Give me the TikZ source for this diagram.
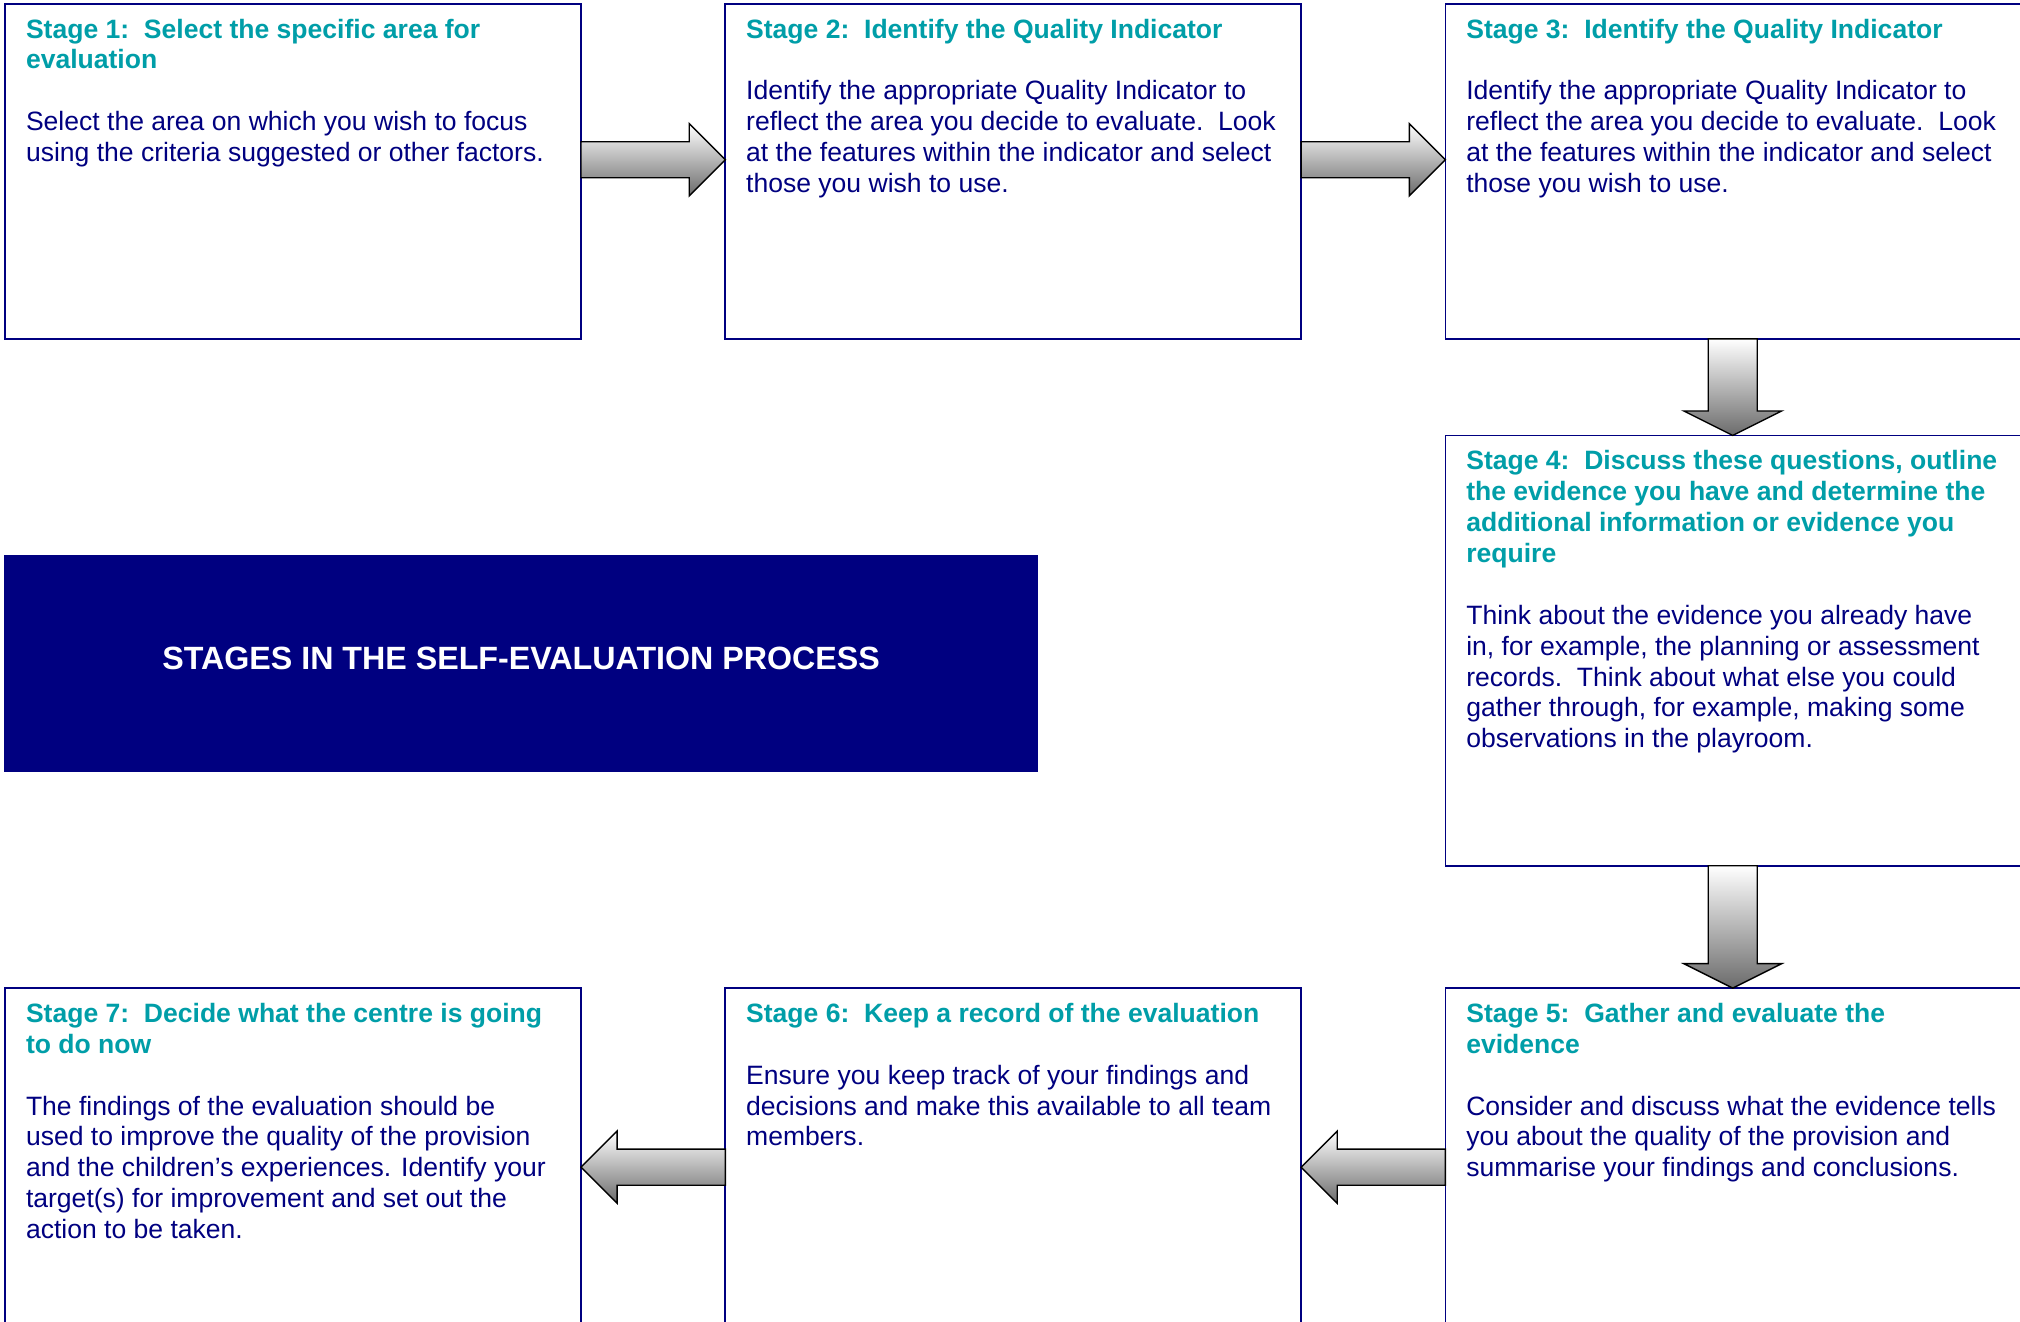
\documentclass[tikz,border=0pt]{standalone}
\usepackage{fontspec}
\setmainfont{Liberation Sans}
\usetikzlibrary{calc}
\definecolor{navy}{RGB}{0,0,128}
\definecolor{tealt}{RGB}{0,158,168}
\tikzset{
  stagebox/.style={draw=navy, line width=1.4pt, fill=white, anchor=north west, outer sep=0pt, inner sep=0pt},
  txt/.style={anchor=base west, inner sep=0pt, font=\fontsize{20.6pt}{24pt}\selectfont},
  blockarrowstyle/.style={draw=black, line width=1.1pt, line join=miter, top color=white, bottom color=black!58},
}
\newcommand{\blockarrow}[5]{% tail, tip, headlen, shafthalf, headhalf
  \path ($(#2)!#3!(#1)$) coordinate (ba-h);
  \shadedraw[blockarrowstyle]
    ($(#1)!#4!90:(#2)$) -- ($(ba-h)!#4!-90:(#1)$) -- ($(ba-h)!#5!-90:(#1)$) -- (#2)
    -- ($(ba-h)!#5!90:(#1)$) -- ($(ba-h)!#4!90:(#1)$) -- ($(#1)!#4!-90:(#2)$) -- cycle;
}
\newcommand{\stagetext}[2]{\parbox[t]{600pt}{\leavevmode\color{tealt}\bfseries #1\\[24pt]\color{navy}\mdseries #2}}
\begin{document}
\begin{tikzpicture}[x=1pt,y=-1pt]
\useasboundingbox (0,0) rectangle (1568,1026);
\clip (0,0) rectangle (1568,1026);
\fill[white] (0,0) rectangle (1568,1026);
% boxes
\node[stagebox, minimum width=447, minimum height=260] (s1) at (4,3) {};
\node[stagebox, minimum width=447, minimum height=260] (s2) at (563,3) {};
\node[stagebox, minimum width=470, minimum height=260] (s3) at (1122,3) {};
\node[stagebox, minimum width=470, minimum height=334] (s4) at (1122,338) {};
\node[stagebox, minimum width=470, minimum height=290] (s5) at (1122,767) {};
\node[stagebox, minimum width=447, minimum height=290] (s6) at (563,767) {};
\node[stagebox, minimum width=447, minimum height=290] (s7) at (4,767) {};
\node[fill=navy, anchor=north west, minimum width=803, minimum height=168, inner sep=0pt, outer sep=0pt] (title) at (3,431) {};
\node[text=white, font=\bfseries\fontsize{25pt}{29pt}\selectfont, inner sep=0pt] (titlet) at ($(title.center)+(0,-4)$) {STAGES IN THE SELF-EVALUATION PROCESS};
% texts
\node[txt] (s1t) at ($(s1.north west)+(16,26.5)$) {\stagetext{Stage 1:~~Select the specific area for\\evaluation}{Select the area on which you wish to focus\\using the criteria suggested or other factors.}};
\node[txt] (s2t) at ($(s2.north west)+(16,26.5)$) {\stagetext{Stage 2:~~Identify the Quality Indicator}{Identify the appropriate Quality Indicator to\\reflect the area you decide to evaluate.~~Look\\at the features within the indicator and select\\those you wish to use.}};
\node[txt] (s3t) at ($(s3.north west)+(16,26.5)$) {\stagetext{Stage 3:~~Identify the Quality Indicator}{Identify the appropriate Quality Indicator to\\reflect the area you decide to evaluate.~~Look\\at the features within the indicator and select\\those you wish to use.}};
\node[txt] (s4t) at ($(s4.north west)+(16,26.5)$) {\stagetext{Stage 4:~~Discuss these questions, outline\\the evidence you have and determine the\\additional information or evidence you\\require}{Think about the evidence you already have\\in, for example, the planning or assessment\\records.~~Think about what else you could\\gather through, for example, making some\\observations in the playroom.}};
\node[txt] (s5t) at ($(s5.north west)+(16,26.5)$) {\stagetext{Stage 5:~~Gather and evaluate the\\evidence}{Consider and discuss what the evidence tells\\you about the quality of the provision and\\summarise your findings and conclusions.}};
\node[txt] (s6t) at ($(s6.north west)+(16,26.5)$) {\stagetext{Stage 6:~~Keep a record of the evaluation}{Ensure you keep track of your findings and\\decisions and make this available to all team\\members.}};
\node[txt] (s7t) at ($(s7.north west)+(16,26.5)$) {\stagetext{Stage 7:~~Decide what the centre is going\\to do now}{The findings of the evaluation should be\\used to improve the quality of the provision\\and the children’s experiences. Identify your\\target(s) for improvement and set out the\\action to be taken.}};
% arrows
\coordinate (a12t) at (s1.east |- 0,124); \coordinate (a12p) at (s2.west |- 0,124);
\coordinate (a23t) at (s2.east |- 0,124); \coordinate (a23p) at (s3.west |- 0,124);
\coordinate (a34t) at (s3.south -| 1345,0); \coordinate (a34p) at (s4.north -| 1345,0);
\coordinate (a45t) at (s4.south -| 1345,0); \coordinate (a45p) at (s5.north -| 1345,0);
\coordinate (a56t) at (s5.west |- 0,906); \coordinate (a56p) at (s6.east |- 0,906);
\coordinate (a67t) at (s6.west |- 0,906); \coordinate (a67p) at (s7.east |- 0,906);
\blockarrow{a12t}{a12p}{28pt}{14pt}{28pt}
\blockarrow{a23t}{a23p}{28pt}{14pt}{28pt}
\blockarrow{a34t}{a34p}{19pt}{19pt}{38pt}
\blockarrow{a45t}{a45p}{19pt}{19pt}{38pt}
\blockarrow{a56t}{a56p}{28pt}{14pt}{28pt}
\blockarrow{a67t}{a67p}{28pt}{14pt}{28pt}
\end{tikzpicture}
\end{document}
